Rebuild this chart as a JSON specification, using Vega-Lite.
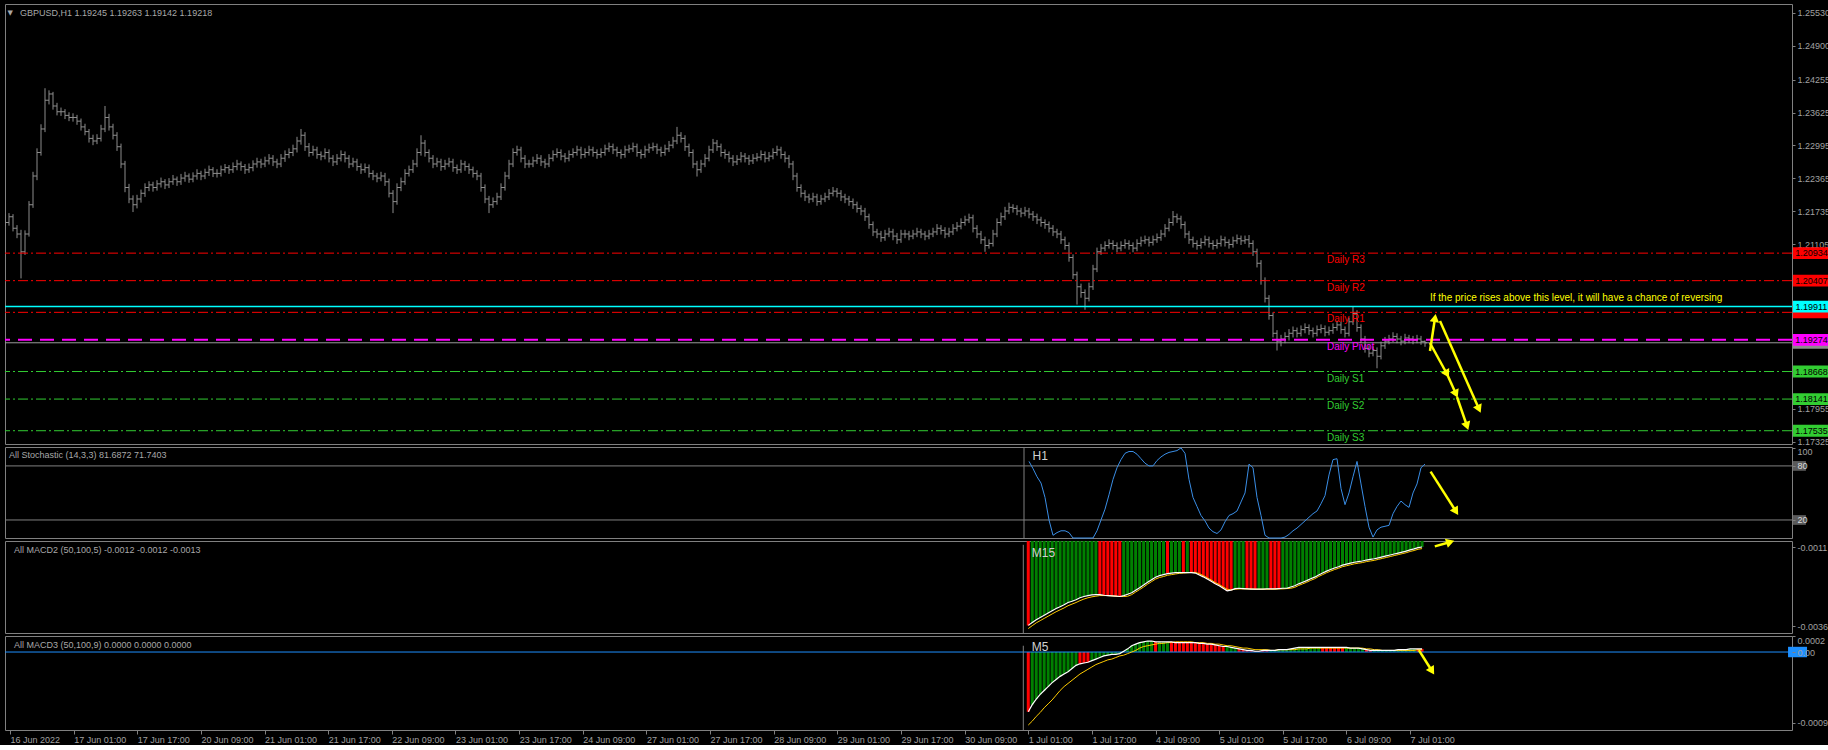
{
"$schema":"https://vega.github.io/schema/vega-lite/v6.json",
"background":"#000000",
"padding":{"left":3,"top":3,"right":0,"bottom":0},
"autosize":{"type":"pad"},
"bounds":"flush",
"spacing":3,
"config":{"view":{"stroke":"#808080","strokeWidth":1},"font":"Liberation Sans","axis":{"labelFont":"Liberation Sans","labelFontSize":9,"labelColor":"#a0a0a0","tickColor":"#808080","domainColor":"#808080","grid":false,"labelOverlap":false,"labelSeparation":0},"text":{"font":"Liberation Sans"}},
"resolve":{"scale":{"x":"independent","y":"independent","color":"independent"}},
"data":{"values":"i,k,m2,s2,d2,m3,s3,d3\n256,85,-0.00357,-0.00367,down,-0.00076,-0.00093,down\n257,77,-0.00348,-0.00358,up,-0.00067,-0.00088,up\n258,68,-0.00339,-0.00349,up,-0.00060,-0.00082,up\n259,61,-0.00332,-0.00342,up,-0.00054,-0.00077,up\n260,45,-0.00325,-0.00335,up,-0.00049,-0.00071,up\n261,20,-0.00318,-0.00328,up,-0.00044,-0.00066,up\n262,3,-0.00311,-0.00321,up,-0.00039,-0.00061,up\n263,6,-0.00304,-0.00314,up,-0.00035,-0.00055,up\n264,8,-0.00298,-0.00308,up,-0.00031,-0.00049,up\n265,8,-0.00292,-0.00302,up,-0.00028,-0.00044,up\n266,6,-0.00285,-0.00295,up,-0.00025,-0.00040,up\n267,0,-0.00281,-0.00290,up,-0.00021,-0.00036,up\n268,0,-0.00276,-0.00285,up,-0.00017,-0.00032,up\n269,0,-0.00270,-0.00279,up,-0.00015,-0.00028,down\n270,0,-0.00266,-0.00274,up,-0.00014,-0.00025,down\n271,0,-0.00263,-0.00270,up,-0.00013,-0.00022,down\n272,0,-0.00261,-0.00267,up,-0.00011,-0.00019,up\n273,8,-0.00260,-0.00265,up,-0.00009,-0.00016,up\n274,20,-0.00260,-0.00263,down,-0.00007,-0.00014,up\n275,32,-0.00262,-0.00263,down,-0.00005,-0.00012,up\n276,48,-0.00263,-0.00263,down,-0.00004,-0.00010,up\n277,65,-0.00264,-0.00264,down,-0.00003,-0.00009,up\n278,78,-0.00265,-0.00265,down,-0.00003,-0.00007,up\n279,87,-0.00266,-0.00266,down,-0.00002,-0.00005,up\n280,94,-0.00263,-0.00266,up,0.00001,-0.00004,up\n281,96,-0.00259,-0.00265,up,0.00004,-0.00002,up\n282,96,-0.00254,-0.00260,up,0.00008,0.00000,up\n283,93,-0.00246,-0.00252,up,0.00010,0.00002,up\n284,88,-0.00238,-0.00244,up,0.00012,0.00005,up\n285,83,-0.00230,-0.00236,up,0.00013,0.00007,up\n286,80,-0.00221,-0.00227,up,0.00014,0.00008,up\n287,80,-0.00213,-0.00219,up,0.00014,0.00009,up\n288,86,-0.00205,-0.00211,up,0.00013,0.00010,down\n289,90,-0.00200,-0.00206,up,0.00013,0.00011,up\n290,93,-0.00197,-0.00203,up,0.00013,0.00011,up\n291,95,-0.00194,-0.00199,down,0.00013,0.00012,up\n292,96,-0.00192,-0.00197,up,0.00013,0.00012,down\n293,97,-0.00191,-0.00195,up,0.00012,0.00013,down\n294,100,-0.00191,-0.00193,up,0.00012,0.00013,down\n295,94,-0.00191,-0.00192,down,0.00012,0.00013,down\n296,65,-0.00191,-0.00191,up,0.00012,0.00013,down\n297,45,-0.00191,-0.00190,down,0.00012,0.00013,down\n298,35,-0.00192,-0.00190,down,0.00012,0.00012,down\n299,25,-0.00198,-0.00194,down,0.00011,0.00012,down\n300,19,-0.00204,-0.00200,down,0.00011,0.00012,down\n301,11,-0.00211,-0.00207,down,0.00010,0.00011,down\n302,7,-0.00218,-0.00214,down,0.00010,0.00011,down\n303,5,-0.00226,-0.00222,down,0.00009,0.00010,down\n304,9,-0.00232,-0.00228,down,0.00008,0.00010,down\n305,18,-0.00240,-0.00236,down,0.00007,0.00009,down\n306,25,-0.00248,-0.00243,down,0.00007,0.00008,up\n307,27,-0.00246,-0.00245,down,0.00006,0.00008,up\n308,30,-0.00241,-0.00243,up,0.00005,0.00007,up\n309,40,-0.00240,-0.00242,up,0.00004,0.00006,down\n310,50,-0.00241,-0.00242,up,0.00003,0.00005,down\n311,82,-0.00242,-0.00242,down,0.00002,0.00005,down\n312,78,-0.00243,-0.00242,down,0.00002,0.00004,down\n313,45,-0.00243,-0.00243,down,0.00001,0.00003,down\n314,25,-0.00243,-0.00243,up,0.00001,0.00003,down\n315,3,-0.00243,-0.00243,up,0.00002,0.00003,down\n316,0,-0.00242,-0.00243,up,0.00002,0.00003,down\n317,0,-0.00242,-0.00243,down,0.00002,0.00002,up\n318,0,-0.00242,-0.00243,down,0.00002,0.00002,up\n319,0,-0.00241,-0.00242,down,0.00003,0.00003,up\n320,1,-0.00240,-0.00242,up,0.00003,0.00003,up\n321,4,-0.00240,-0.00241,up,0.00003,0.00003,up\n322,8,-0.00236,-0.00240,up,0.00004,0.00003,up\n323,11,-0.00232,-0.00237,up,0.00005,0.00003,up\n324,15,-0.00226,-0.00231,up,0.00006,0.00004,up\n325,19,-0.00221,-0.00226,up,0.00006,0.00004,up\n326,23,-0.00216,-0.00221,up,0.00006,0.00004,up\n327,27,-0.00210,-0.00215,up,0.00006,0.00005,up\n328,30,-0.00205,-0.00210,up,0.00006,0.00005,up\n329,38,-0.00198,-0.00203,up,0.00006,0.00005,up\n330,47,-0.00192,-0.00197,up,0.00006,0.00005,down\n331,70,-0.00186,-0.00191,up,0.00006,0.00005,down\n332,87,-0.00181,-0.00186,up,0.00006,0.00005,down\n333,88,-0.00176,-0.00181,up,0.00006,0.00005,down\n334,55,-0.00172,-0.00177,up,0.00006,0.00005,down\n335,37,-0.00167,-0.00172,up,0.00006,0.00005,down\n336,50,-0.00164,-0.00169,up,0.00006,0.00005,up\n337,68,-0.00161,-0.00166,up,0.00005,0.00005,up\n338,85,-0.00158,-0.00163,up,0.00005,0.00005,up\n339,60,-0.00156,-0.00161,up,0.00005,0.00005,up\n340,35,-0.00154,-0.00159,up,0.00004,0.00005,up\n341,12,-0.00151,-0.00156,up,0.00003,0.00004,down\n342,1,-0.00149,-0.00154,up,0.00002,0.00004,down\n343,9,-0.00147,-0.00152,up,0.00002,0.00003,up\n344,12,-0.00144,-0.00149,up,0.00002,0.00003,up\n345,13,-0.00141,-0.00146,up,0.00002,0.00002,up\n346,14,-0.00138,-0.00143,up,0.00002,0.00002,up\n347,27,-0.00135,-0.00140,up,0.00002,0.00002,up\n348,35,-0.00132,-0.00137,up,0.00002,0.00002,up\n349,41,-0.00129,-0.00134,up,0.00003,0.00002,up\n350,37,-0.00126,-0.00131,up,0.00003,0.00002,up\n351,34,-0.00123,-0.00128,up,0.00003,0.00002,up\n352,50,-0.00119,-0.00124,up,0.00004,0.00002,up\n353,60,-0.00116,-0.00121,up,0.00004,0.00002,up\n354,78,-0.00112,-0.00117,up,0.00004,0.00003,down\n355,82,-0.00110,-0.00115,up,0.00004,0.00003,down","format":{"type":"csv","parse":{"i":"number","k":"number","m2":"number","s2":"number","m3":"number","s3":"number"}}},
"vconcat":[
{
"width":1787,"height":440,
"data":{"values":"i,o,h,l,c\n0,1.2160,1.2168,1.2145,1.2152\n1,1.2152,1.2170,1.2146,1.2163\n2,1.2163,1.2168,1.2135,1.2141\n3,1.2141,1.2147,1.2122,1.2130\n4,1.2130,1.2138,1.2045,1.2096\n5,1.2096,1.2137,1.2090,1.2130\n6,1.2130,1.2193,1.2125,1.2186\n7,1.2186,1.2249,1.2180,1.2241\n8,1.2241,1.2294,1.2233,1.2286\n9,1.2286,1.2340,1.2280,1.2331\n10,1.2331,1.2409,1.2325,1.2386\n11,1.2386,1.2405,1.2378,1.2398\n12,1.2398,1.2402,1.2368,1.2375\n13,1.2375,1.2381,1.2357,1.2364\n14,1.2364,1.2372,1.2356,1.2364\n15,1.2364,1.2369,1.2350,1.2357\n16,1.2357,1.2363,1.2346,1.2353\n17,1.2353,1.2361,1.2345,1.2353\n18,1.2353,1.2358,1.2339,1.2346\n19,1.2346,1.2351,1.2328,1.2335\n20,1.2335,1.2341,1.2319,1.2326\n21,1.2326,1.2331,1.2305,1.2313\n22,1.2313,1.2320,1.2300,1.2308\n23,1.2308,1.2321,1.2302,1.2313\n24,1.2313,1.2339,1.2307,1.2331\n25,1.2331,1.2375,1.2325,1.2353\n26,1.2353,1.2360,1.2328,1.2335\n27,1.2335,1.2341,1.2311,1.2319\n28,1.2319,1.2325,1.2289,1.2297\n29,1.2297,1.2303,1.2256,1.2264\n30,1.2264,1.2270,1.2210,1.2219\n31,1.2219,1.2226,1.2189,1.2197\n32,1.2197,1.2204,1.2172,1.2186\n33,1.2186,1.2205,1.2179,1.2197\n34,1.2197,1.2215,1.2190,1.2208\n35,1.2208,1.2227,1.2201,1.2219\n36,1.2219,1.2231,1.2212,1.2224\n37,1.2224,1.2230,1.2211,1.2219\n38,1.2219,1.2233,1.2213,1.2226\n39,1.2226,1.2238,1.2219,1.2230\n40,1.2230,1.2235,1.2216,1.2224\n41,1.2224,1.2237,1.2218,1.2230\n42,1.2230,1.2243,1.2224,1.2235\n43,1.2235,1.2240,1.2222,1.2230\n44,1.2230,1.2245,1.2224,1.2237\n45,1.2237,1.2249,1.2230,1.2241\n46,1.2241,1.2246,1.2228,1.2235\n47,1.2235,1.2248,1.2229,1.2241\n48,1.2241,1.2254,1.2234,1.2246\n49,1.2246,1.2251,1.2233,1.2241\n50,1.2241,1.2255,1.2235,1.2248\n51,1.2248,1.2261,1.2241,1.2253\n52,1.2253,1.2258,1.2239,1.2246\n53,1.2246,1.2254,1.2238,1.2246\n54,1.2246,1.2261,1.2240,1.2253\n55,1.2253,1.2264,1.2247,1.2257\n56,1.2257,1.2262,1.2245,1.2253\n57,1.2253,1.2267,1.2247,1.2259\n58,1.2259,1.2272,1.2252,1.2264\n59,1.2264,1.2269,1.2251,1.2259\n60,1.2259,1.2264,1.2245,1.2253\n61,1.2253,1.2265,1.2247,1.2257\n62,1.2257,1.2271,1.2250,1.2264\n63,1.2264,1.2276,1.2257,1.2268\n64,1.2268,1.2274,1.2256,1.2264\n65,1.2264,1.2278,1.2258,1.2270\n66,1.2270,1.2283,1.2263,1.2275\n67,1.2275,1.2281,1.2260,1.2268\n68,1.2268,1.2274,1.2256,1.2264\n69,1.2264,1.2283,1.2258,1.2275\n70,1.2275,1.2290,1.2268,1.2282\n71,1.2282,1.2294,1.2275,1.2286\n72,1.2286,1.2301,1.2279,1.2293\n73,1.2293,1.2316,1.2286,1.2308\n74,1.2308,1.2331,1.2301,1.2319\n75,1.2319,1.2325,1.2289,1.2297\n76,1.2297,1.2304,1.2278,1.2286\n77,1.2286,1.2299,1.2280,1.2291\n78,1.2291,1.2297,1.2274,1.2282\n79,1.2282,1.2288,1.2271,1.2279\n80,1.2279,1.2294,1.2273,1.2286\n81,1.2286,1.2292,1.2267,1.2275\n82,1.2275,1.2281,1.2260,1.2268\n83,1.2268,1.2283,1.2262,1.2275\n84,1.2275,1.2290,1.2269,1.2282\n85,1.2282,1.2288,1.2267,1.2275\n86,1.2275,1.2281,1.2256,1.2264\n87,1.2264,1.2276,1.2258,1.2268\n88,1.2268,1.2274,1.2251,1.2259\n89,1.2259,1.2265,1.2245,1.2253\n90,1.2253,1.2265,1.2247,1.2257\n91,1.2257,1.2263,1.2238,1.2246\n92,1.2246,1.2252,1.2233,1.2241\n93,1.2241,1.2247,1.2229,1.2237\n94,1.2237,1.2249,1.2231,1.2241\n95,1.2241,1.2247,1.2222,1.2230\n96,1.2230,1.2236,1.2200,1.2208\n97,1.2208,1.2214,1.2170,1.2192\n98,1.2192,1.2227,1.2186,1.2219\n99,1.2219,1.2238,1.2212,1.2230\n100,1.2230,1.2254,1.2224,1.2246\n101,1.2246,1.2261,1.2240,1.2253\n102,1.2253,1.2272,1.2247,1.2264\n103,1.2264,1.2294,1.2258,1.2286\n104,1.2286,1.2319,1.2280,1.2304\n105,1.2304,1.2310,1.2278,1.2286\n106,1.2286,1.2292,1.2267,1.2275\n107,1.2275,1.2281,1.2256,1.2264\n108,1.2264,1.2276,1.2258,1.2268\n109,1.2268,1.2274,1.2251,1.2259\n110,1.2259,1.2272,1.2253,1.2264\n111,1.2264,1.2276,1.2258,1.2268\n112,1.2268,1.2274,1.2249,1.2257\n113,1.2257,1.2263,1.2245,1.2253\n114,1.2253,1.2272,1.2247,1.2264\n115,1.2264,1.2270,1.2251,1.2259\n116,1.2259,1.2265,1.2245,1.2253\n117,1.2253,1.2259,1.2238,1.2246\n118,1.2246,1.2252,1.2233,1.2241\n119,1.2241,1.2247,1.2211,1.2219\n120,1.2219,1.2225,1.2189,1.2197\n121,1.2197,1.2203,1.2170,1.2186\n122,1.2186,1.2200,1.2180,1.2192\n123,1.2192,1.2209,1.2186,1.2201\n124,1.2201,1.2227,1.2195,1.2219\n125,1.2219,1.2249,1.2213,1.2241\n126,1.2241,1.2272,1.2235,1.2264\n127,1.2264,1.2294,1.2258,1.2286\n128,1.2286,1.2299,1.2280,1.2291\n129,1.2291,1.2297,1.2267,1.2275\n130,1.2275,1.2281,1.2256,1.2264\n131,1.2264,1.2272,1.2257,1.2264\n132,1.2264,1.2278,1.2258,1.2270\n133,1.2270,1.2283,1.2264,1.2275\n134,1.2275,1.2281,1.2260,1.2268\n135,1.2268,1.2274,1.2256,1.2264\n136,1.2264,1.2283,1.2258,1.2275\n137,1.2275,1.2290,1.2269,1.2282\n138,1.2282,1.2294,1.2276,1.2286\n139,1.2286,1.2292,1.2271,1.2279\n140,1.2279,1.2285,1.2267,1.2275\n141,1.2275,1.2290,1.2269,1.2282\n142,1.2282,1.2294,1.2276,1.2286\n143,1.2286,1.2299,1.2280,1.2291\n144,1.2291,1.2297,1.2274,1.2282\n145,1.2282,1.2294,1.2276,1.2286\n146,1.2286,1.2299,1.2280,1.2291\n147,1.2291,1.2297,1.2278,1.2286\n148,1.2286,1.2292,1.2274,1.2282\n149,1.2282,1.2294,1.2276,1.2286\n150,1.2286,1.2301,1.2280,1.2293\n151,1.2293,1.2305,1.2287,1.2297\n152,1.2297,1.2303,1.2283,1.2291\n153,1.2291,1.2297,1.2278,1.2286\n154,1.2286,1.2292,1.2274,1.2282\n155,1.2282,1.2299,1.2276,1.2291\n156,1.2291,1.2301,1.2285,1.2293\n157,1.2293,1.2305,1.2287,1.2297\n158,1.2297,1.2303,1.2278,1.2286\n159,1.2286,1.2292,1.2274,1.2282\n160,1.2282,1.2299,1.2276,1.2291\n161,1.2291,1.2303,1.2285,1.2295\n162,1.2295,1.2305,1.2289,1.2297\n163,1.2297,1.2303,1.2283,1.2291\n164,1.2291,1.2297,1.2278,1.2286\n165,1.2286,1.2301,1.2280,1.2293\n166,1.2293,1.2308,1.2287,1.2300\n167,1.2300,1.2316,1.2294,1.2308\n168,1.2308,1.2335,1.2302,1.2319\n169,1.2319,1.2325,1.2305,1.2313\n170,1.2313,1.2319,1.2289,1.2297\n171,1.2297,1.2303,1.2278,1.2286\n172,1.2286,1.2292,1.2256,1.2264\n173,1.2264,1.2270,1.2240,1.2253\n174,1.2253,1.2272,1.2247,1.2264\n175,1.2264,1.2283,1.2258,1.2275\n176,1.2275,1.2299,1.2269,1.2291\n177,1.2291,1.2312,1.2285,1.2304\n178,1.2304,1.2310,1.2289,1.2297\n179,1.2297,1.2303,1.2278,1.2286\n180,1.2286,1.2292,1.2274,1.2282\n181,1.2282,1.2288,1.2267,1.2275\n182,1.2275,1.2281,1.2260,1.2268\n183,1.2268,1.2281,1.2262,1.2273\n184,1.2273,1.2287,1.2267,1.2279\n185,1.2279,1.2285,1.2267,1.2275\n186,1.2275,1.2281,1.2262,1.2270\n187,1.2270,1.2283,1.2264,1.2275\n188,1.2275,1.2285,1.2269,1.2277\n189,1.2277,1.2290,1.2271,1.2282\n190,1.2282,1.2288,1.2267,1.2275\n191,1.2275,1.2287,1.2269,1.2279\n192,1.2279,1.2294,1.2273,1.2286\n193,1.2286,1.2299,1.2280,1.2291\n194,1.2291,1.2297,1.2274,1.2282\n195,1.2282,1.2288,1.2267,1.2275\n196,1.2275,1.2281,1.2256,1.2264\n197,1.2264,1.2270,1.2233,1.2241\n198,1.2241,1.2247,1.2211,1.2219\n199,1.2219,1.2225,1.2200,1.2208\n200,1.2208,1.2214,1.2193,1.2201\n201,1.2201,1.2207,1.2189,1.2197\n202,1.2197,1.2209,1.2191,1.2201\n203,1.2201,1.2207,1.2184,1.2192\n204,1.2192,1.2205,1.2186,1.2197\n205,1.2197,1.2209,1.2191,1.2201\n206,1.2201,1.2216,1.2195,1.2208\n207,1.2208,1.2220,1.2202,1.2212\n208,1.2212,1.2218,1.2200,1.2208\n209,1.2208,1.2214,1.2193,1.2201\n210,1.2201,1.2207,1.2189,1.2197\n211,1.2197,1.2203,1.2184,1.2192\n212,1.2192,1.2198,1.2178,1.2186\n213,1.2186,1.2192,1.2171,1.2179\n214,1.2179,1.2185,1.2166,1.2174\n215,1.2174,1.2180,1.2155,1.2163\n216,1.2163,1.2169,1.2140,1.2148\n217,1.2148,1.2154,1.2126,1.2134\n218,1.2134,1.2140,1.2122,1.2130\n219,1.2130,1.2136,1.2115,1.2123\n220,1.2123,1.2138,1.2117,1.2130\n221,1.2130,1.2142,1.2124,1.2134\n222,1.2134,1.2140,1.2118,1.2126\n223,1.2126,1.2132,1.2111,1.2119\n224,1.2119,1.2138,1.2113,1.2130\n225,1.2130,1.2138,1.2122,1.2130\n226,1.2130,1.2136,1.2118,1.2126\n227,1.2126,1.2138,1.2120,1.2130\n228,1.2130,1.2142,1.2124,1.2134\n229,1.2134,1.2140,1.2122,1.2130\n230,1.2130,1.2136,1.2118,1.2126\n231,1.2126,1.2138,1.2120,1.2130\n232,1.2130,1.2142,1.2124,1.2134\n233,1.2134,1.2149,1.2128,1.2141\n234,1.2141,1.2147,1.2129,1.2137\n235,1.2137,1.2143,1.2122,1.2130\n236,1.2130,1.2142,1.2124,1.2134\n237,1.2134,1.2149,1.2128,1.2141\n238,1.2141,1.2153,1.2135,1.2145\n239,1.2145,1.2160,1.2139,1.2152\n240,1.2152,1.2165,1.2146,1.2157\n241,1.2157,1.2169,1.2151,1.2161\n242,1.2161,1.2167,1.2133,1.2141\n243,1.2141,1.2147,1.2122,1.2130\n244,1.2130,1.2136,1.2111,1.2119\n245,1.2119,1.2125,1.2096,1.2108\n246,1.2108,1.2120,1.2102,1.2112\n247,1.2112,1.2138,1.2106,1.2130\n248,1.2130,1.2160,1.2124,1.2152\n249,1.2152,1.2171,1.2146,1.2163\n250,1.2163,1.2182,1.2157,1.2174\n251,1.2174,1.2190,1.2168,1.2181\n252,1.2181,1.2187,1.2171,1.2179\n253,1.2179,1.2185,1.2166,1.2174\n254,1.2174,1.2180,1.2162,1.2170\n255,1.2170,1.2182,1.2164,1.2174\n256,1.2174,1.2180,1.2160,1.2168\n257,1.2168,1.2174,1.2155,1.2163\n258,1.2163,1.2169,1.2149,1.2157\n259,1.2157,1.2163,1.2144,1.2152\n260,1.2152,1.2158,1.2140,1.2148\n261,1.2148,1.2154,1.2133,1.2141\n262,1.2141,1.2147,1.2126,1.2134\n263,1.2134,1.2140,1.2122,1.2130\n264,1.2130,1.2136,1.2111,1.2119\n265,1.2119,1.2125,1.2100,1.2108\n266,1.2108,1.2114,1.2077,1.2085\n267,1.2085,1.2091,1.2044,1.2052\n268,1.2052,1.2058,1.1995,1.2029\n269,1.2029,1.2035,1.2008,1.2018\n270,1.2018,1.2024,1.1985,1.2007\n271,1.2007,1.2037,1.2001,1.2029\n272,1.2029,1.2071,1.2023,1.2063\n273,1.2063,1.2104,1.2057,1.2096\n274,1.2096,1.2111,1.2090,1.2103\n275,1.2103,1.2116,1.2097,1.2108\n276,1.2108,1.2120,1.2102,1.2112\n277,1.2112,1.2118,1.2100,1.2108\n278,1.2108,1.2114,1.2095,1.2103\n279,1.2103,1.2116,1.2097,1.2108\n280,1.2108,1.2120,1.2102,1.2112\n281,1.2112,1.2118,1.2100,1.2108\n282,1.2108,1.2114,1.2095,1.2103\n283,1.2103,1.2120,1.2097,1.2112\n284,1.2112,1.2125,1.2106,1.2117\n285,1.2117,1.2127,1.2111,1.2119\n286,1.2119,1.2125,1.2106,1.2114\n287,1.2114,1.2127,1.2108,1.2119\n288,1.2119,1.2131,1.2113,1.2123\n289,1.2123,1.2138,1.2117,1.2130\n290,1.2130,1.2149,1.2124,1.2141\n291,1.2141,1.2160,1.2135,1.2152\n292,1.2152,1.2174,1.2146,1.2163\n293,1.2163,1.2169,1.2151,1.2159\n294,1.2159,1.2165,1.2140,1.2148\n295,1.2148,1.2154,1.2122,1.2130\n296,1.2130,1.2136,1.2111,1.2119\n297,1.2119,1.2125,1.2104,1.2112\n298,1.2112,1.2118,1.2100,1.2108\n299,1.2108,1.2122,1.2102,1.2114\n300,1.2114,1.2127,1.2108,1.2119\n301,1.2119,1.2125,1.2104,1.2112\n302,1.2112,1.2118,1.2100,1.2108\n303,1.2108,1.2120,1.2102,1.2112\n304,1.2112,1.2127,1.2106,1.2119\n305,1.2119,1.2125,1.2106,1.2114\n306,1.2114,1.2120,1.2102,1.2110\n307,1.2110,1.2125,1.2104,1.2117\n308,1.2117,1.2129,1.2111,1.2121\n309,1.2121,1.2127,1.2109,1.2117\n310,1.2117,1.2127,1.2111,1.2119\n311,1.2119,1.2128,1.2104,1.2112\n312,1.2112,1.2118,1.2088,1.2096\n313,1.2096,1.2102,1.2066,1.2074\n314,1.2074,1.2080,1.2033,1.2041\n315,1.2041,1.2047,1.1999,1.2007\n316,1.2007,1.2013,1.1966,1.1974\n317,1.1974,1.1980,1.1932,1.1940\n318,1.1940,1.1946,1.1907,1.1925\n319,1.1925,1.1937,1.1915,1.1929\n320,1.1929,1.1942,1.1921,1.1934\n321,1.1934,1.1948,1.1926,1.1940\n322,1.1940,1.1953,1.1932,1.1945\n323,1.1945,1.1951,1.1932,1.1940\n324,1.1940,1.1955,1.1934,1.1947\n325,1.1947,1.1959,1.1940,1.1951\n326,1.1951,1.1957,1.1937,1.1945\n327,1.1945,1.1951,1.1932,1.1940\n328,1.1940,1.1955,1.1934,1.1947\n329,1.1947,1.1957,1.1940,1.1949\n330,1.1949,1.1955,1.1934,1.1942\n331,1.1942,1.1953,1.1936,1.1945\n332,1.1945,1.1959,1.1939,1.1951\n333,1.1951,1.1964,1.1945,1.1956\n334,1.1956,1.1962,1.1939,1.1947\n335,1.1947,1.1953,1.1932,1.1940\n336,1.1940,1.1970,1.1934,1.1962\n337,1.1962,1.1991,1.1956,1.1978\n338,1.1978,1.1984,1.1943,1.1951\n339,1.1951,1.1957,1.1921,1.1929\n340,1.1929,1.1935,1.1903,1.1911\n341,1.1911,1.1917,1.1894,1.1902\n342,1.1902,1.1915,1.1896,1.1907\n343,1.1907,1.1913,1.1873,1.1896\n344,1.1896,1.1924,1.1890,1.1916\n345,1.1916,1.1933,1.1910,1.1925\n346,1.1925,1.1937,1.1919,1.1929\n347,1.1929,1.1942,1.1923,1.1934\n348,1.1934,1.1940,1.1921,1.1929\n349,1.1929,1.1935,1.1917,1.1925\n350,1.1925,1.1939,1.1919,1.1931\n351,1.1931,1.1937,1.1921,1.1929\n352,1.1929,1.1935,1.1919,1.1927\n353,1.1927,1.1937,1.1921,1.1929\n354,1.1929,1.1935,1.1918,1.19245\n355,1.19245,1.19263,1.19142,1.19218","format":{"type":"csv","parse":{"i":"number","o":"number","h":"number","l":"number","c":"number"}}},
"layer":[
{"mark":{"type":"rule","color":"#8c8c8c","strokeWidth":1,"clip":true},
 "encoding":{"x":{"field":"i","type":"quantitative","scale":{"domain":[0,446.75],"nice":false,"zero":false},"axis":null},
 "y":{"field":"l","type":"quantitative","scale":{"domain":[1.17281,1.25702],"nice":false,"zero":false},"axis":{"orient":"right","title":null,"values":[1.2553,1.249,1.24255,1.23625,1.22995,1.22365,1.21735,1.21105,1.17955,1.17325],"format":".5f","domain":false,"tickSize":3,"labelPadding":2,"labelOverlap":false,"labelSeparation":0,"labelBound":false,"labelFlush":false}},
 "y2":{"field":"h"}}},
{"mark":{"type":"point","shape":"M-1,0H0","size":16,"filled":false,"color":"#8c8c8c","strokeWidth":1,"opacity":1,"clip":true},
 "encoding":{"x":{"field":"i","type":"quantitative","axis":null},"y":{"field":"o","type":"quantitative"}}},
{"mark":{"type":"point","shape":"M0,0H1","size":16,"filled":false,"color":"#8c8c8c","strokeWidth":1,"opacity":1,"clip":true},
 "encoding":{"x":{"field":"i","type":"quantitative","axis":null},"y":{"field":"c","type":"quantitative"}}},
{"data":{"values":[{"name":"Daily R3","p":1.20934,"t":"R"},{"name":"Daily R2","p":1.20407,"t":"R"},{"name":"Daily R1","p":1.19801,"t":"R"}]},
 "mark":{"type":"rule","color":"#ff0000","strokeWidth":1,"strokeDash":[10,3,2,3]},
 "encoding":{"y":{"field":"p","type":"quantitative"}}},
{"data":{"values":[{"name":"Daily Pivot","p":1.19274,"t":"P"}]},
 "mark":{"type":"rule","color":"#ff00ff","strokeWidth":2,"strokeDash":[14,8]},
 "encoding":{"y":{"field":"p","type":"quantitative"}}},
{"data":{"values":[{"name":"Daily S1","p":1.18668,"t":"S"},{"name":"Daily S2","p":1.18141,"t":"S"},{"name":"Daily S3","p":1.17535,"t":"S"}]},
 "mark":{"type":"rule","color":"#32cd32","strokeWidth":1,"strokeDash":[10,3,2,3]},
 "encoding":{"y":{"field":"p","type":"quantitative"}}},
{"data":{"values":[{"p":1.19911}]},
 "mark":{"type":"rule","color":"#00ffff","strokeWidth":1.5},
 "encoding":{"y":{"field":"p","type":"quantitative"}}},
{"data":{"values":[{"p":1.19218}]},
 "mark":{"type":"rule","color":"#9a9a9a","strokeWidth":1},
 "encoding":{"y":{"field":"p","type":"quantitative"}}},
{"data":{"values":[{"name":"Daily R3","p":1.20934,"t":"R"},{"name":"Daily R2","p":1.20407,"t":"R"},{"name":"Daily R1","p":1.19801,"t":"R"},{"name":"Daily Pivot","p":1.19274,"t":"P"},{"name":"Daily S1","p":1.18668,"t":"S"},{"name":"Daily S2","p":1.18141,"t":"S"},{"name":"Daily S3","p":1.17535,"t":"S"}]},
 "mark":{"type":"text","align":"left","baseline":"top","dy":2,"fontSize":10},
 "encoding":{"x":{"datum":330.5,"type":"quantitative","axis":null},"y":{"field":"p","type":"quantitative"},"text":{"field":"name"},
 "color":{"field":"t","type":"nominal","scale":{"domain":["R","P","S","C","B"],"range":["#ff0000","#ff00ff","#32cd32","#00ffff","#8c8c8c"]},"legend":null}}},
{"data":{"values":[{"p":1.20934,"t":"R"},{"p":1.20407,"t":"R"},{"p":1.19801,"t":"R"},{"p":1.19218,"t":"B"},{"p":1.18668,"t":"S"},{"p":1.18141,"t":"S"},{"p":1.17535,"t":"S"}]},
 "mark":{"type":"point","shape":"M-1,-0.32H1V0.32H-1Z","size":1369,"filled":true,"opacity":1},
 "encoding":{"x":{"datum":451.6,"type":"quantitative","axis":null},"y":{"field":"p","type":"quantitative"},
 "color":{"field":"t","type":"nominal","scale":{"domain":["R","P","S","C","B"],"range":["#ff0000","#ff00ff","#32cd32","#00ffff","#8c8c8c"]},"legend":null}}},
{"data":{"values":[{"p":1.20934,"t":"R"},{"p":1.20407,"t":"R"},{"p":1.18668,"t":"S"},{"p":1.18141,"t":"S"},{"p":1.17535,"t":"S"}]},
 "mark":{"type":"text","align":"center","baseline":"middle","fontSize":9,"color":"#000000"},
 "encoding":{"x":{"datum":451.6,"type":"quantitative","axis":null},"y":{"field":"p","type":"quantitative"},"text":{"field":"p","type":"quantitative","format":".5f"}}},
{"data":{"values":[{"p":1.19911,"t":"C"},{"p":1.19274,"t":"P"}]},
 "mark":{"type":"point","shape":"M-1,-0.32H1V0.32H-1Z","size":1369,"filled":true,"opacity":1},
 "encoding":{"x":{"datum":451.6,"type":"quantitative","axis":null},"y":{"field":"p","type":"quantitative"},
 "color":{"field":"t","type":"nominal","scale":{"domain":["R","P","S","C","B"],"range":["#ff0000","#ff00ff","#32cd32","#00ffff","#8c8c8c"]},"legend":null}}},
{"data":{"values":[{"p":1.19911,"t":"C"},{"p":1.19274,"t":"P"}]},
 "mark":{"type":"text","align":"center","baseline":"middle","fontSize":9,"color":"#000000"},
 "encoding":{"x":{"datum":451.6,"type":"quantitative","axis":null},"y":{"field":"p","type":"quantitative"},"text":{"field":"p","type":"quantitative","format":".5f"}}},
{"data":{"values":[{"t":"If the price rises above this level, it will have a chance of reversing"}]},
 "mark":{"type":"text","align":"left","baseline":"middle","fontSize":10,"color":"#ffff00"},
 "encoding":{"x":{"datum":356.25,"type":"quantitative","axis":null},"y":{"datum":1.20075,"type":"quantitative"},"text":{"field":"t"}}},
{"data":{"values":[{"x1":356.25,"y1":1.19061,"x2":357.5,"y2":1.19692,"a":9},{"x1":358.75,"y1":1.19635,"x2":368.5,"y2":1.17951,"a":156},{"x1":356.25,"y1":1.19214,"x2":360.5,"y2":1.18621,"a":151},{"x1":360.5,"y1":1.18621,"x2":362.75,"y2":1.18238,"a":156},{"x1":363,"y1":1.1818,"x2":365.5,"y2":1.17625,"a":161}]},
 "layer":[
 {"mark":{"type":"rule","color":"#ffff00","strokeWidth":2.5},
  "encoding":{"x":{"field":"x1","type":"quantitative","axis":null},"y":{"field":"y1","type":"quantitative"},"x2":{"field":"x2"},"y2":{"field":"y2"}}},
 {"mark":{"type":"point","shape":"triangle-up","size":90,"filled":true,"color":"#ffff00","opacity":1},
  "encoding":{"x":{"field":"x2","type":"quantitative","axis":null},"y":{"field":"y2","type":"quantitative"},"angle":{"field":"a","type":"quantitative","scale":null}}}
 ]},
{"data":{"values":[{"t":"GBPUSD,H1  1.19245 1.19263 1.19142 1.19218"}]},
 "mark":{"type":"text","align":"left","baseline":"middle","fontSize":9,"color":"#a8a8a8"},
 "encoding":{"x":{"datum":3.75,"type":"quantitative","axis":null},"y":{"datum":1.2553,"type":"quantitative"},"text":{"field":"t"}}},
{"data":{"values":[{"t":"▼"}]},
 "mark":{"type":"text","align":"left","baseline":"middle","fontSize":7,"color":"#a8a8a8","font":"DejaVu Sans"},
 "encoding":{"x":{"datum":0.6,"type":"quantitative","axis":null},"y":{"datum":1.2553,"type":"quantitative"},"text":{"field":"t"}}}
]
},
{
"width":1787,"height":91,
"layer":[
{"data":{"values":[{"v":80},{"v":20}]},
 "mark":{"type":"rule","color":"#808080","strokeWidth":1},
 "encoding":{"y":{"field":"v","type":"quantitative","scale":{"domain":[0,101],"nice":false,"zero":false},
 "axis":{"orient":"right","title":null,"values":[100,80,20],"domain":false,"tickSize":3,"labelPadding":2,"zindex":1,"labelOverlap":false,"labelBound":false,"labelFlush":false,
 "labelBaseline":{"condition":{"test":"datum.value===100","value":"top"},"value":"middle"},
 "labelColor":{"condition":{"test":"datum.value!==100","value":"#dcdcdc"},"value":"#a0a0a0"}}}}},
{"data":{"values":[{}]},
 "mark":{"type":"rule","color":"#808080","strokeWidth":1},
 "encoding":{"x":{"datum":254.75,"type":"quantitative","scale":{"domain":[0,446.75],"nice":false,"zero":false},"axis":null}}},
{"data":{"values":[{"v":80},{"v":20}]},
 "mark":{"type":"point","shape":"M-1,-0.75H1V0.75H-1Z","size":169,"filled":true,"color":"#5a5a5a","opacity":1},
 "encoding":{"x":{"datum":448.6,"type":"quantitative","axis":null},"y":{"field":"v","type":"quantitative"}}},
{"mark":{"type":"line","color":"#3a8ee6","strokeWidth":1},
 "encoding":{"x":{"field":"i","type":"quantitative","axis":null},"y":{"field":"k","type":"quantitative"}}},
{"data":{"values":[{"t":"All Stochastic (14,3,3) 81.6872 71.7403"}]},
 "mark":{"type":"text","align":"left","baseline":"middle","fontSize":9,"color":"#a8a8a8"},
 "encoding":{"x":{"datum":1,"type":"quantitative","axis":null},"y":{"datum":92,"type":"quantitative"},"text":{"field":"t"}}},
{"data":{"values":[{"t":"H1"}]},
 "mark":{"type":"text","align":"left","baseline":"middle","fontSize":12,"color":"#d0d0d0"},
 "encoding":{"x":{"datum":256.9,"type":"quantitative","axis":null},"y":{"datum":91,"type":"quantitative"},"text":{"field":"t"}}},
{"data":{"values":[{"x1":356.4,"y1":73.7,"x2":362.75,"y2":29.5,"a":148}]},
 "layer":[
 {"mark":{"type":"rule","color":"#ffff00","strokeWidth":2.5},
  "encoding":{"x":{"field":"x1","type":"quantitative","axis":null},"y":{"field":"y1","type":"quantitative"},"x2":{"field":"x2"},"y2":{"field":"y2"}}},
 {"mark":{"type":"point","shape":"triangle-up","size":90,"filled":true,"color":"#ffff00","opacity":1},
  "encoding":{"x":{"field":"x2","type":"quantitative","axis":null},"y":{"field":"y2","type":"quantitative"},"angle":{"field":"a","type":"quantitative","scale":null}}}
 ]}
]
},
{
"width":1787,"height":92,
"layer":[
{"mark":{"type":"bar","size":3,"clip":true},
 "encoding":{"x":{"field":"i","type":"quantitative","scale":{"domain":[0,446.75],"nice":false,"zero":false},"axis":null},
 "y":{"field":"m2","type":"quantitative","scale":{"domain":[-0.00381,-0.00091],"nice":false,"zero":false},
 "axis":{"orient":"right","title":null,"values":[-0.0011,-0.0036],"labelExpr":"datum.value < -0.002 ? '-0.0036' : '-0.0011'","domain":false,"tickSize":3,"labelPadding":2,"labelOverlap":false,"labelBound":false,"labelFlush":false}},
 "y2":{"datum":-0.0005},
 "color":{"field":"d2","type":"nominal","scale":{"domain":["up","down"],"range":["#008000","#ff0000"]},"legend":null}}},
{"data":{"values":[{}]},
 "mark":{"type":"rule","color":"#808080","strokeWidth":1},
 "encoding":{"x":{"datum":254.75,"type":"quantitative","axis":null},"y":{"datum":-0.00103,"type":"quantitative"},"y2":{"datum":-0.00381}}},
{"mark":{"type":"line","color":"#ffcc00","strokeWidth":1},
 "encoding":{"x":{"field":"i","type":"quantitative","axis":null},"y":{"field":"s2","type":"quantitative"}}},
{"mark":{"type":"line","color":"#ffffff","strokeWidth":1.2},
 "encoding":{"x":{"field":"i","type":"quantitative","axis":null},"y":{"field":"m2","type":"quantitative"}}},
{"data":{"values":[{"t":"All MACD2 (50,100,5) -0.0012 -0.0012 -0.0013"}]},
 "mark":{"type":"text","align":"left","baseline":"middle","fontSize":9,"color":"#a8a8a8"},
 "encoding":{"x":{"datum":1,"type":"quantitative","axis":null},"y":{"datum":-0.00119,"type":"quantitative"},"text":{"field":"t"}}},
{"data":{"values":[{"t":"M15"}]},
 "mark":{"type":"text","align":"left","baseline":"middle","fontSize":12,"color":"#d0d0d0"},
 "encoding":{"x":{"datum":256.9,"type":"quantitative","axis":null},"y":{"datum":-0.00129,"type":"quantitative"},"text":{"field":"t"}}},
{"data":{"values":[{"x1":358.2,"y1":-0.00108,"x2":362.1,"y2":-0.00094,"a":72}]},
 "layer":[
 {"mark":{"type":"rule","color":"#ffff00","strokeWidth":2.5},
  "encoding":{"x":{"field":"x1","type":"quantitative","axis":null},"y":{"field":"y1","type":"quantitative"},"x2":{"field":"x2"},"y2":{"field":"y2"}}},
 {"mark":{"type":"point","shape":"triangle-up","size":90,"filled":true,"color":"#ffff00","opacity":1},
  "encoding":{"x":{"field":"x2","type":"quantitative","axis":null},"y":{"field":"y2","type":"quantitative"},"angle":{"field":"a","type":"quantitative","scale":null}}}
 ]}
]
},
{
"width":1787,"height":94,
"layer":[
{"mark":{"type":"bar","size":3,"clip":true},
 "encoding":{"x":{"field":"i","type":"quantitative","scale":{"domain":[0,446.75],"nice":false,"zero":false},
 "axis":{"orient":"bottom","title":null,"values":[0,16,32,48,64,80,96,112,128,144,160,176,192,208,224,240,256,272,288,304,320,336,352],
 "labelExpr":"['16 Jun 2022','17 Jun 01:00','17 Jun 17:00','20 Jun 09:00','21 Jun 01:00','21 Jun 17:00','22 Jun 09:00','23 Jun 01:00','23 Jun 17:00','24 Jun 09:00','27 Jun 01:00','27 Jun 17:00','28 Jun 09:00','29 Jun 01:00','29 Jun 17:00','30 Jun 09:00','1 Jul 01:00','1 Jul 17:00','4 Jul 09:00','5 Jul 01:00','5 Jul 17:00','6 Jul 09:00','7 Jul 01:00'][round(datum.value/16)]",
 "domain":false,"tickSize":4,"labelAlign":"left","labelPadding":1,"labelFlush":false,"labelOverlap":false,"labelBound":false}},
 "y":{"field":"m3","type":"quantitative","scale":{"domain":[-0.000993,0.000204],"nice":false,"zero":false},
 "axis":{"orient":"right","title":null,"values":[0.0002,0,-0.0009],"labelExpr":"datum.value > 0.0001 ? '0.0002' : (datum.value < -0.0001 ? '-0.0009' : '0.00')","domain":false,"tickSize":3,"labelPadding":2,"zindex":1,"labelOverlap":false,"labelBound":false,"labelFlush":false,
 "labelBaseline":{"condition":{"test":"datum.value > 0.0001","value":"top"},"value":"middle"}}},
 "y2":{"datum":0},
 "color":{"field":"d3","type":"nominal","scale":{"domain":["up","down"],"range":["#008000","#ff0000"]},"legend":null}}},
{"data":{"values":[{}]},
 "mark":{"type":"rule","color":"#1e90ff","strokeWidth":1},
 "encoding":{"y":{"datum":0,"type":"quantitative"}}},
{"data":{"values":[{}]},
 "mark":{"type":"rule","color":"#808080","strokeWidth":1},
 "encoding":{"x":{"datum":254.75,"type":"quantitative"},"y":{"datum":0.00008,"type":"quantitative"},"y2":{"datum":-0.000993}}},
{"mark":{"type":"line","color":"#ffcc00","strokeWidth":1},
 "encoding":{"x":{"field":"i","type":"quantitative"},"y":{"field":"s3","type":"quantitative"}}},
{"mark":{"type":"line","color":"#ffffff","strokeWidth":1.2},
 "encoding":{"x":{"field":"i","type":"quantitative"},"y":{"field":"m3","type":"quantitative"}}},
{"data":{"values":[{}]},
 "mark":{"type":"point","shape":"M-1,-0.55H1V0.55H-1Z","size":361,"filled":true,"color":"#1e90ff","opacity":1},
 "encoding":{"x":{"datum":449.4,"type":"quantitative"},"y":{"datum":0,"type":"quantitative"}}},
{"data":{"values":[{"t":"All MACD3 (50,100,9) 0.0000 0.0000 0.0000"}]},
 "mark":{"type":"text","align":"left","baseline":"middle","fontSize":9,"color":"#a8a8a8"},
 "encoding":{"x":{"datum":1,"type":"quantitative"},"y":{"datum":0.000089,"type":"quantitative"},"text":{"field":"t"}}},
{"data":{"values":[{"t":"M5"}]},
 "mark":{"type":"text","align":"left","baseline":"middle","fontSize":12,"color":"#d0d0d0"},
 "encoding":{"x":{"datum":256.9,"type":"quantitative"},"y":{"datum":0.000064,"type":"quantitative"},"text":{"field":"t"}}},
{"data":{"values":[{"x1":354.2,"y1":0.000025,"x2":357.5,"y2":-0.000242,"a":148}]},
 "layer":[
 {"mark":{"type":"rule","color":"#ffff00","strokeWidth":2.5},
  "encoding":{"x":{"field":"x1","type":"quantitative"},"y":{"field":"y1","type":"quantitative"},"x2":{"field":"x2"},"y2":{"field":"y2"}}},
 {"mark":{"type":"point","shape":"triangle-up","size":90,"filled":true,"color":"#ffff00","opacity":1},
  "encoding":{"x":{"field":"x2","type":"quantitative"},"y":{"field":"y2","type":"quantitative"},"angle":{"field":"a","type":"quantitative","scale":null}}}
 ]}
]
}
]
}
